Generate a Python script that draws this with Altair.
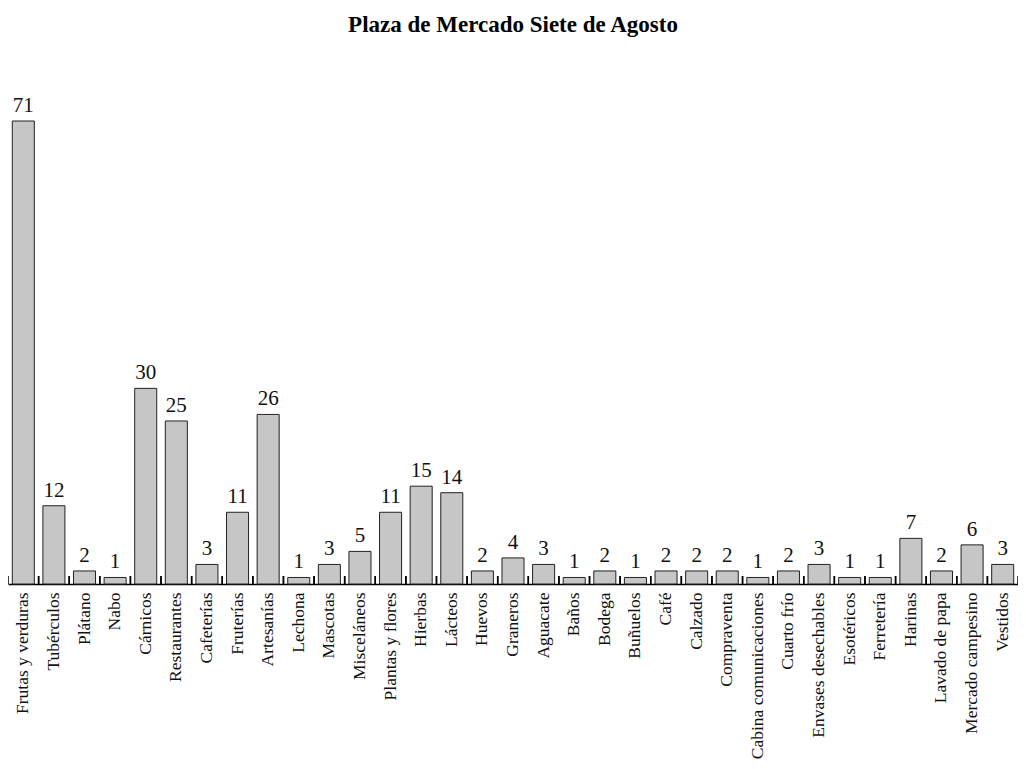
import altair as alt
import pandas as pd

categories = ["Frutas y verduras", "Tubérculos", "Plátano", "Nabo", "Cárnicos", "Restaurantes",
              "Cafeterías", "Fruterías", "Artesanías", "Lechona", "Mascotas", "Misceláneos",
              "Plantas y flores", "Hierbas", "Lácteos", "Huevos", "Graneros", "Aguacate", "Baños",
              "Bodega", "Buñuelos", "Café", "Calzado", "Compraventa", "Cabina comunicaciones",
              "Cuarto frío", "Envases desechables", "Esotéricos", "Ferretería", "Harinas",
              "Lavado de papa", "Mercado campesino", "Vestidos"]
values = [71, 12, 2, 1, 30, 25, 3, 11, 26, 1, 3, 5, 11, 15, 14, 2, 4, 3, 1, 2, 1, 2, 2, 2, 1,
          2, 3, 1, 1, 7, 2, 6, 3]

df = pd.DataFrame({"cat": categories, "val": values})
FONT = "Liberation Serif"
W, H = 1010, 463

xscale = alt.Scale(domain=categories, paddingInner=0.28, paddingOuter=0.14)
yscale = alt.Scale(domain=[0, 71], nice=False)

base = alt.Chart(df)

bars = base.mark_bar(fill="#c6c6c6", stroke="#222222", strokeWidth=1).encode(
    x=alt.X("cat:N", scale=xscale, sort=None, title=None,
            axis=alt.Axis(labelAngle=270, labelFont=FONT, labelFontSize=17.5, labelColor="#111111",
                          ticks=False, domainColor="#000000", domainWidth=1.5, labelPadding=8,
                          labelLimit=300)),
    y=alt.Y("val:Q", scale=yscale, axis=None),
)

texts = base.mark_text(font=FONT, fontSize=21, baseline="bottom", dy=-5, color="#111111").encode(
    x=alt.X("cat:N", scale=xscale, sort=None, axis=None),
    y=alt.Y("val:Q", scale=yscale, axis=None),
    text="val:Q",
)

tick_scale = alt.Scale(domain=categories, paddingInner=0, paddingOuter=0)
ticks_left = base.mark_rule(color="#000000", strokeWidth=1.5).encode(
    x=alt.X("cat:N", scale=tick_scale, sort=None, axis=None, bandPosition=0),
    y=alt.value(H), y2=alt.value(H - 8),
)
ticks_right = base.mark_rule(color="#000000", strokeWidth=1.5).encode(
    x=alt.X("cat:N", scale=tick_scale, sort=None, axis=None, bandPosition=1),
    y=alt.value(H), y2=alt.value(H - 8),
)

chart = alt.layer(bars, texts, ticks_left, ticks_right).resolve_scale(x="independent").properties(
    width=W, height=H,
    title=alt.TitleParams("Plaza de Mercado Siete de Agosto", font=FONT, fontSize=23,
                          fontWeight="bold", color="#000000", anchor="middle", offset=58),
    autosize=alt.AutoSizeParams(type="none"),
    padding={"left": 0, "top": 113, "right": 0, "bottom": 178},
).configure_view(stroke=None)

chart.save("out.html", embed_options={"renderer": "svg", "actions": False})
